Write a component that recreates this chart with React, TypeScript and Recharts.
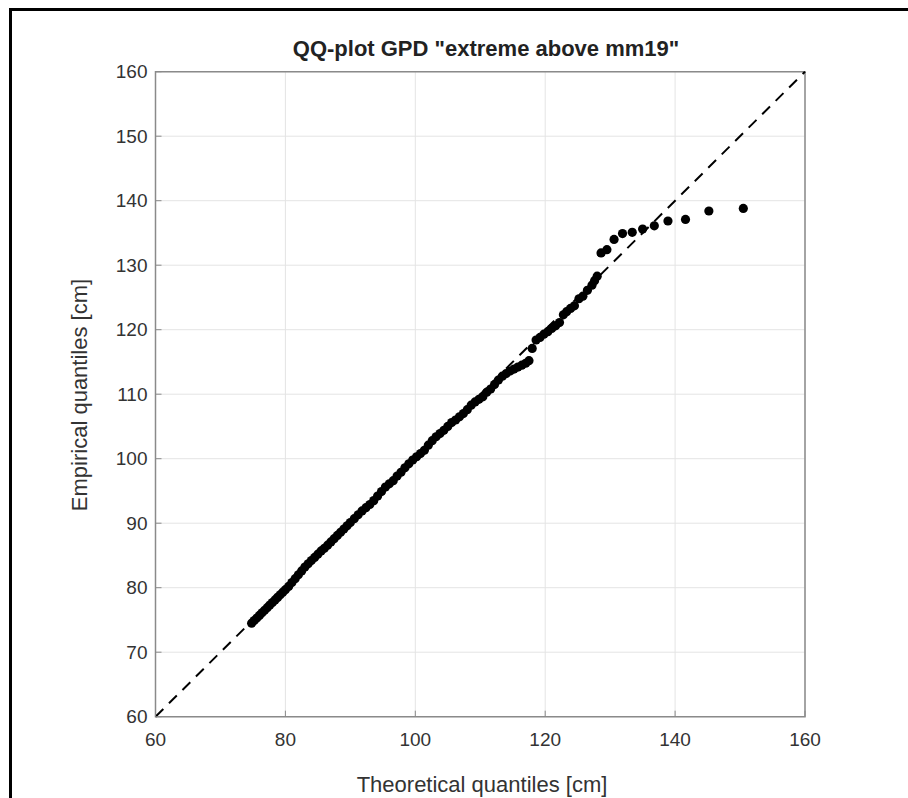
import {
  CartesianGrid,
  ReferenceArea,
  ReferenceLine,
  Scatter,
  ScatterChart,
  XAxis,
  YAxis,
} from 'recharts';

// theoretical GPD quantiles [cm]
const theoretical = [
  74.8, 75.2, 75.6, 76.0, 76.4, 76.8, 77.2, 77.6, 78.0, 78.4, 78.8, 79.2, 79.6, 80.0,
  80.5, 81.0, 81.5, 82.0, 82.5, 83.0, 83.5, 84.0, 84.5, 85.0, 85.5, 86.0, 86.5, 87.0,
  87.5, 88.0, 88.5, 89.0, 89.5, 90.0, 90.6, 91.2, 91.8, 92.4, 93.0, 93.6, 94.2, 94.8,
  95.4, 96.0, 96.6, 97.2, 97.8, 98.4, 99.0, 99.6, 100.2, 100.8, 101.4, 102.0, 102.6,
  103.2, 103.8, 104.4, 105.0, 105.6, 106.2, 106.8, 107.4, 108.0, 108.6, 109.2, 109.8,
  110.4, 111.0, 111.6, 112.2, 112.8, 113.4, 114.0, 114.6, 115.2, 115.8, 116.4, 117.0,
  117.5, 118.0, 118.6, 119.2, 119.8, 120.4, 121.0, 121.6, 122.2, 122.8, 123.3, 123.9,
  124.5, 125.2, 125.8, 126.5, 127.2, 127.6, 128.0, 128.6, 129.5, 130.6, 131.9, 133.4,
  135.0, 136.8, 138.9, 141.6, 145.2, 150.5,
];

// empirical quantiles [cm]
const empirical = [
  74.5, 74.9, 75.3, 75.7, 76.1, 76.5, 76.9, 77.3, 77.7, 78.1, 78.5, 78.9, 79.3, 79.7,
  80.2, 80.8, 81.4, 82.0, 82.6, 83.2, 83.7, 84.2, 84.7, 85.2, 85.7, 86.1, 86.6, 87.1,
  87.6, 88.1, 88.6, 89.1, 89.6, 90.1, 90.7, 91.3, 91.9, 92.4, 92.9, 93.5, 94.2, 94.9,
  95.6, 96.1, 96.6, 97.3, 97.9, 98.6, 99.2, 99.8, 100.3, 100.8, 101.3, 102.1, 102.8,
  103.4, 103.9, 104.4, 105.0, 105.6, 106.0, 106.5, 107.0, 107.6, 108.3, 108.8, 109.2,
  109.6, 110.3, 110.8, 111.5, 112.2, 112.8, 113.2, 113.6, 113.9, 114.2, 114.5, 114.8,
  115.2, 117.1, 118.4, 118.8, 119.3, 119.7, 120.2, 120.6, 121.1, 122.3, 122.8, 123.3,
  123.7, 124.8, 125.2, 126.1, 126.9, 127.6, 128.3, 131.9, 132.4, 134.0, 134.9, 135.1,
  135.6, 136.1, 136.85, 137.1, 138.4, 138.8,
];

const xTicks = [60, 80, 100, 120, 140, 160];
const yTicks = [60, 70, 80, 90, 100, 110, 120, 130, 140, 150, 160];
const refLine = [
  { x: 60, y: 60 },
  { x: 160, y: 160 },
];

const points = theoretical.map((x, i) => ({ x, y: empirical[i] }));

const FONT = '"Liberation Sans", Arial, Helvetica, sans-serif';
const TICK = { fontSize: 19, fill: '#333', fontFamily: FONT };
const AXIS_COLOR = '#8a8a8a';

const Dot = (p: any) => <circle cx={p.cx} cy={p.cy} r={4.6} fill="#000" />;

export default function App() {
  return (
    <div
      style={{
        position: 'absolute',
        left: 0,
        top: 0,
        width: 908,
        height: 798,
        overflow: 'hidden',
        background: '#fff',
        fontFamily: FONT,
      }}
    >
      <div
        style={{
          position: 'absolute',
          left: 9,
          top: 8,
          width: 1000,
          height: 1000,
          borderTop: '3px solid #000',
          borderLeft: '3px solid #000',
        }}
      />
      <div
        style={{
          position: 'absolute',
          left: 186,
          width: 600,
          top: 36,
          textAlign: 'center',
          fontSize: 22,
          fontWeight: 'bold',
          color: '#222',
        }}
      >
        QQ-plot GPD "extreme above mm19"
      </div>
      <div
        style={{
          position: 'absolute',
          left: 282,
          width: 400,
          top: 772,
          textAlign: 'center',
          fontSize: 22,
          color: '#333',
        }}
      >
        Theoretical quantiles [cm]
      </div>
      <div
        style={{
          position: 'absolute',
          left: 80,
          top: 394,
          width: 400,
          marginLeft: -200,
          marginTop: -12,
          textAlign: 'center',
          fontSize: 22,
          color: '#333',
          transform: 'rotate(-90deg)',
        }}
      >
        Empirical quantiles [cm]
      </div>
      <div style={{ position: 'absolute', left: 0, top: 0 }}>
        <ScatterChart
          width={908}
          height={798}
          margin={{ top: 61.7, right: 93, bottom: 51.3, left: 105.5 }}
        >
          <CartesianGrid stroke="#e4e4e4" strokeWidth={1} xAxisId="b" yAxisId="l" />
          <XAxis
            xAxisId="b"
            type="number"
            dataKey="x"
            domain={[60, 160]}
            ticks={xTicks}
            allowDataOverflow
            height={30}
            axisLine={false}
            tickLine={{ stroke: AXIS_COLOR }}
            tickSize={-6}
            tickMargin={22}
            tick={TICK}
          />
          <XAxis
            xAxisId="t"
            orientation="top"
            type="number"
            domain={[60, 160]}
            ticks={xTicks}
            allowDataOverflow
            height={10}
            axisLine={false}
            tickLine={{ stroke: AXIS_COLOR }}
            tickSize={-6}
            tick={false}
          />
          <YAxis
            yAxisId="l"
            type="number"
            dataKey="y"
            domain={[60, 160]}
            ticks={yTicks}
            allowDataOverflow
            width={50}
            axisLine={false}
            tickLine={{ stroke: AXIS_COLOR }}
            tickSize={-6}
            tickMargin={14}
            tick={TICK}
          />
          <YAxis
            yAxisId="r"
            orientation="right"
            type="number"
            domain={[60, 160]}
            ticks={yTicks}
            allowDataOverflow
            width={10}
            axisLine={false}
            tickLine={{ stroke: AXIS_COLOR }}
            tickSize={-6}
            tick={false}
          />
          <ReferenceArea
            xAxisId="b"
            yAxisId="l"
            x1={60}
            x2={160}
            y1={60}
            y2={160}
            fill="none"
            fillOpacity={0}
            stroke={AXIS_COLOR}
            strokeWidth={1.5}
            ifOverflow="visible"
          />
          <ReferenceLine
            xAxisId="b"
            yAxisId="l"
            segment={refLine}
            stroke="#000"
            strokeWidth={2}
            strokeDasharray="11 8"
            ifOverflow="visible"
          />
          <Scatter
            xAxisId="b"
            yAxisId="l"
            data={points}
            shape={Dot}
            isAnimationActive={false}
          />
        </ScatterChart>
      </div>
    </div>
  );
}
